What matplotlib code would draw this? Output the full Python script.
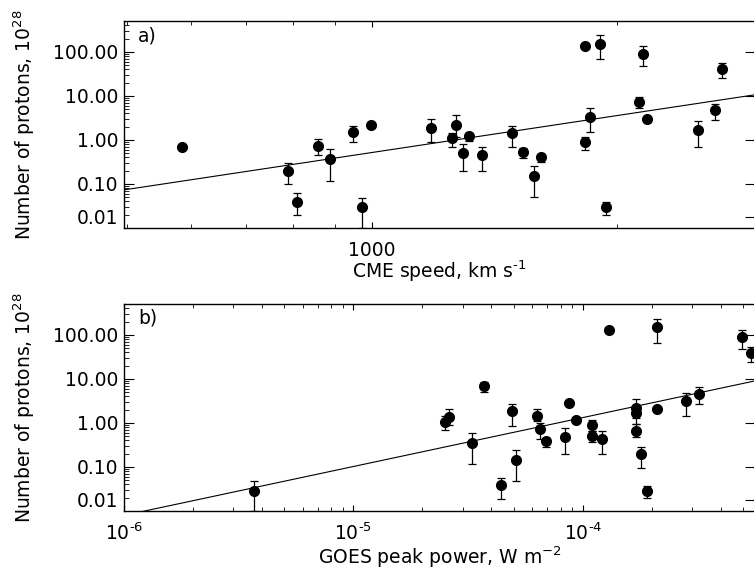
import numpy as np
import matplotlib
matplotlib.use('Agg')
import matplotlib.pyplot as plt
from matplotlib.ticker import NullFormatter

plt.rcParams['font.family'] = ['DejaVu Sans']
plt.rcParams['mathtext.fontset'] = 'dejavusans'
plt.rcParams['font.size'] = 13.5

# panel a: CME speed (km/s) vs number of protons (10^28)
cme_speed = [584, 789, 808, 858, 888, 947, 996, 973, 1181, 1253, 1267, 1295, 1315,
             1364, 1487, 1531, 1612, 1583, 1827, 1906, 1827, 1853, 1939, 2128,
             2152, 2179, 2515, 2634, 2692]
protons_a = [0.70, 0.197, 0.0396, 0.742, 0.364, 1.52, 2.23, 0.0305, 1.90, 1.13, 2.19,
             0.514, 1.21, 0.449, 1.42, 0.525, 0.404, 0.152, 137, 150, 0.915, 3.28,
             0.030, 7.3, 90, 3.0, 1.71, 4.88, 41.1]
hi_a = [0.70, 0.295, 0.0624, 1.05, 0.624, 2.08, 2.23, 0.0489, 3.0, 1.44, 3.70, 0.81,
        1.47, 0.70, 2.08, 0.658, 0.481, 0.256, 137, 240, 1.19, 5.25, 0.0396, 9.3,
        132, 3.0, 2.75, 6.58, 57]
lo_a = [0.70, 0.10, 0.0197, 0.456, 0.117, 0.90, 2.23, 0.0098, 0.915, 0.70, 1.17, 0.20,
        0.95, 0.20, 0.70, 0.39, 0.321, 0.0499, 137, 68, 0.593, 1.50, 0.0197, 5.25,
        48.8, 3.0, 0.70, 2.80, 25.2]
fit_a = (-8.644, 2.786)   # log10 N = a + b log10 v

# panel b: GOES peak power (W/m^2) vs number of protons
goes = [3.70e-6, 2.50e-5, 2.61e-5, 3.30e-5, 3.71e-5, 4.40e-5, 4.91e-5, 5.12e-5,
        6.30e-5, 6.51e-5, 6.91e-5, 8.40e-5, 8.75e-5, 9.32e-5, 1.10e-4, 1.10e-4,
        1.21e-4, 1.30e-4, 2.11e-4, 1.71e-4, 1.71e-4, 1.71e-4, 1.80e-4, 1.90e-4,
        2.10e-4, 2.81e-4, 3.21e-4, 4.93e-4, 5.43e-4]
protons_b = [0.0285, 1.05, 1.37, 0.356, 6.93, 0.039, 1.87, 0.144, 1.44, 0.73, 0.384,
             0.481, 2.89, 1.15, 0.89, 0.507, 0.427, 128, 147, 2.16, 1.66, 0.668,
             0.195, 0.0289, 2.11, 3.16, 4.63, 86.9, 39.6]
hi_b = [0.0473, 1.44, 2.05, 0.60, 8.7, 0.057, 2.75, 0.24, 2.05, 1.02, 0.463, 0.78,
        2.89, 1.15, 1.15, 0.66, 0.66, 128, 227, 3.57, 2.43, 0.95, 0.289, 0.0376,
        2.11, 4.88, 6.58, 128, 54.2]
lo_b = [0.0098, 0.68, 0.90, 0.115, 5.07, 0.019, 0.87, 0.048, 1.11, 0.427, 0.289,
        0.195, 2.89, 1.15, 0.66, 0.376, 0.195, 128, 66.8, 1.32, 0.95, 0.48, 0.0964,
        0.0194, 2.11, 1.44, 2.75, 47.3, 24.3]
fit_b = (4.56, 1.11)

ytick_vals = [0.018, 0.1, 1, 10, 100]
ytick_labels = ['0.01', '0.10', '1.00', '10.00', '100.00']

fig = plt.figure(figsize=(7.54, 5.71), dpi=100)
ax1 = fig.add_axes([0.1645, 0.6007, 0.8369, 0.3625])
ax2 = fig.add_axes([0.1645, 0.1051, 0.8369, 0.3625])


def panel(ax, x, y, lo, hi, fit, xlim, tag):
    x = np.array(x)
    y = np.array(y)
    yerr = [y - np.array(lo), np.array(hi) - y]
    has_err = (yerr[0] > 0) | (yerr[1] > 0)
    ax.errorbar(x[has_err], y[has_err], yerr=[e[has_err] for e in yerr], fmt='none',
                ecolor='black', elinewidth=0.9, capsize=2.9, capthick=0.9)
    ax.plot(x, y, 'o', color='black', ms=7, zorder=3)
    xl = np.array(xlim)
    ax.plot(xl, 10 ** (fit[0] + fit[1] * np.log10(xl)), color='black', lw=0.8)
    ax.set_xscale('log')
    ax.set_yscale('log')
    ax.set_xlim(xlim)
    ax.set_ylim(0.01, 500)
    ax.set_yticks(ytick_vals, ytick_labels)
    t0 = ax.yaxis.get_major_ticks()[0]
    t0.tick1line.set_visible(False)
    t0.tick2line.set_visible(False)
    ax.tick_params(which='both', direction='in', top=True, right=True)
    ax.tick_params(axis='y', which='major', length=7, width=0.8, pad=4)
    ax.tick_params(axis='y', which='minor', length=3.5, width=0.6, right=False)
    ax.tick_params(axis='x', which='major', length=4.5, width=0.8)
    ax.tick_params(axis='x', which='minor', length=3, width=0.6)
    ax.set_ylabel('Number of protons, $10^{28}$', labelpad=12)
    ax.text(0.022, 0.93, tag, transform=ax.transAxes, va='center')
    for s in ax.spines.values():
        s.set_linewidth(1.0)


panel(ax1, cme_speed, protons_a, lo_a, hi_a, fit_a, (496, 2954), 'a)')
ax1.set_xticks([1000], ['1000'])
ax1.xaxis.set_minor_formatter(NullFormatter())
ax1.tick_params(axis='x', which='major', pad=9)
ax1.set_xlabel('CME speed, km s$^{\\text{-}1}$', labelpad=-1)

panel(ax2, goes, protons_b, lo_b, hi_b, fit_b, (1e-6, 5.64e-4), 'b)')
ax2.set_xticks([1e-6, 1e-5, 1e-4], ['10$^{\\text{-}6}$', '10$^{\\text{-}5}$', '10$^{\\text{-}4}$'])
ax2.xaxis.set_minor_formatter(NullFormatter())
ax2.tick_params(axis='x', which='major', pad=8)
ax2.set_xlabel('GOES peak power, W m$^{-2}$', labelpad=1)

fig.savefig('out.png', dpi=100)
